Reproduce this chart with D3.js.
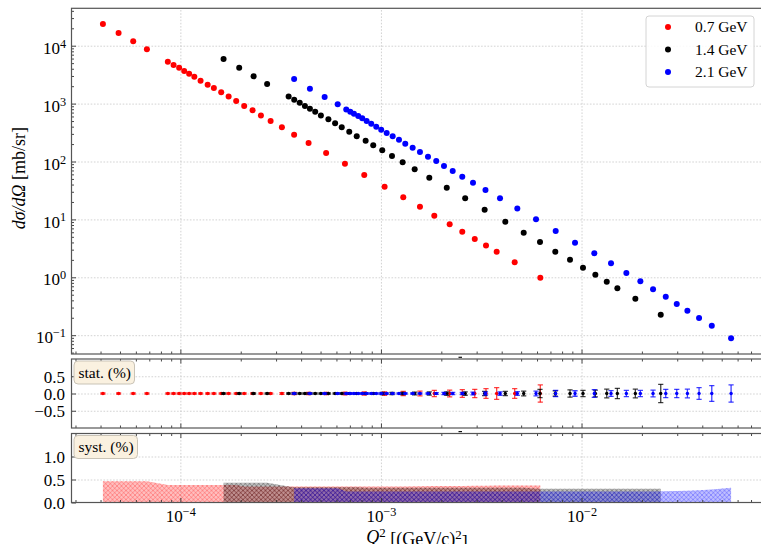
<!DOCTYPE html>
<html>
<head>
<meta charset="utf-8">
<script src="https://cdn.jsdelivr.net/npm/d3@7"></script>
<style>
  body { margin: 0; background: #fff; }
  svg { display: block; }
  text { font-family: "Liberation Serif", "Times New Roman", serif; fill: #000; }
</style>
</head>
<body>
<svg id="chart" width="761" height="544"></svg>
<script>
// ---- data -------------------------------------------------------------
const seriesNames  = ["0.7 GeV", "1.4 GeV", "2.1 GeV"];
const seriesColors = ["#ff0000", "#000000", "#0000ff"];

// Q^2 in (GeV/c)^2
const q2_07 = [4.11e-5, 4.92e-5, 5.82e-5, 6.81e-5, 8.66e-5, 9.25e-5, 9.86e-5, 1.045e-4, 1.106e-4, 1.174e-4,
  1.261e-4, 1.368e-4, 1.469e-4, 1.598e-4, 1.740e-4, 1.898e-4, 2.081e-4, 2.291e-4, 2.521e-4, 2.818e-4,
  3.208e-4, 3.691e-4, 4.358e-4, 5.330e-4, 6.614e-4, 8.256e-4, 1.043e-3, 1.292e-3, 1.565e-3, 1.845e-3,
  2.201e-3, 2.544e-3, 2.936e-3, 3.340e-3, 3.776e-3, 4.643e-3, 6.230e-3];
const q2_14 = [1.642e-4, 1.965e-4, 2.318e-4, 2.707e-4, 3.465e-4, 3.695e-4, 3.936e-4, 4.178e-4, 4.425e-4, 4.702e-4,
  5.019e-4, 5.471e-4, 5.908e-4, 6.375e-4, 6.95e-4, 7.573e-4, 8.389e-4, 9.153e-4, 1.015e-3, 1.135e-3,
  1.283e-3, 1.473e-3, 1.742e-3, 2.129e-3, 2.630e-3, 3.289e-3, 4.169e-3, 5.149e-3, 6.209e-3, 7.40e-3,
  8.762e-3, 1.017e-2, 1.172e-2, 1.336e-2, 1.509e-2, 1.855e-2, 2.483e-2];
const q2_21 = [3.691e-4, 4.425e-4, 5.24e-4, 6.088e-4, 6.714e-4, 7.031e-4, 7.336e-4, 7.705e-4, 8.067e-4, 8.485e-4,
  8.946e-4, 9.475e-4, 1.003e-3, 1.068e-3, 1.144e-3, 1.23e-3, 1.322e-3, 1.439e-3, 1.565e-3, 1.716e-3,
  1.887e-3, 2.062e-3, 2.279e-3, 2.544e-3, 2.877e-3, 3.32e-3, 3.923e-3, 4.785e-3, 5.932e-3, 7.434e-3,
  9.281e-3, 1.158e-2, 1.403e-2, 1.673e-2, 1.965e-2, 2.273e-2, 2.630e-2, 2.984e-2, 3.372e-2, 3.855e-2,
  4.461e-2, 5.568e-2];

// dσ/dΩ in mb/sr
const xs_07 = [23700, 16570, 11910, 8666, 5292, 4642, 4169, 3656, 3284, 2915,
  2486, 2120, 1859, 1568, 1327, 1109, 909, 766, 623, 500.6,
  389.7, 290.4, 208.7, 140.2, 91.6, 58.5, 36.7, 24.1, 16.57, 11.58,
  8.23, 6.13, 4.59, 3.54, 2.76, 1.816, 0.984];
const xs_14 = [5892, 4169, 2961, 2180, 1327, 1163, 1036, 909, 813, 724.6,
  623, 535.6, 458.6, 389.7, 325.8, 272.4, 228.7, 190.4, 156.1, 124.5,
  96.9, 73.3, 52.5, 35.3, 23.1, 14.7, 9.13, 5.89, 4.07, 2.77,
  2.01, 1.465, 1.109, 0.839, 0.6457, 0.427, 0.226];
const xs_21 = [2660, 1808, 1300, 972, 791, 721.8, 669, 610.6, 557, 500.6,
  449.6, 399, 354.2, 310.6, 272.4, 238, 203, 173, 145.9, 121,
  102, 83.6, 68.5, 54.6, 42.9, 32.2, 23.1, 15.4, 10.04, 6.31,
  3.96, 2.60, 1.745, 1.187, 0.853, 0.620, 0.462, 0.346, 0.265, 0.198,
  0.146, 0.0884];

// statistical uncertainty (%)
const stat_07 = [0.02, 0.02, 0.02, 0.02, 0.02, 0.02, 0.02, 0.02, 0.02, 0.02,
  0.02, 0.02, 0.02, 0.02, 0.02, 0.02, 0.02, 0.02, 0.02, 0.02,
  0.025, 0.03, 0.03, 0.035, 0.04, 0.045, 0.05, 0.06, 0.07, 0.09,
  0.10, 0.11, 0.12, 0.14, 0.17, 0.14, 0.25];
const stat_14 = [0.02, 0.02, 0.02, 0.02, 0.02, 0.02, 0.02, 0.02, 0.02, 0.02,
  0.02, 0.02, 0.02, 0.02, 0.02, 0.02, 0.02, 0.025, 0.03, 0.03,
  0.035, 0.04, 0.045, 0.05, 0.05, 0.06, 0.06, 0.07, 0.12, 0.08,
  0.107, 0.09, 0.10, 0.125, 0.15, 0.125, 0.265];
const stat_21 = [0.02, 0.02, 0.02, 0.02, 0.02, 0.02, 0.02, 0.02, 0.02, 0.02,
  0.02, 0.02, 0.02, 0.02, 0.02, 0.02, 0.02, 0.02, 0.02, 0.02,
  0.025, 0.03, 0.03, 0.035, 0.04, 0.045, 0.05, 0.055, 0.07, 0.09,
  0.08, 0.11, 0.085, 0.09, 0.09, 0.095, 0.12, 0.12, 0.125, 0.17,
  0.23, 0.25];

// systematic uncertainty (%)
const syst_07 = [0.46, 0.46, 0.46, 0.46, 0.38, 0.38, 0.38, 0.38, 0.38, 0.38,
  0.38, 0.38, 0.38, 0.38, 0.38, 0.38, 0.35, 0.35, 0.35, 0.35,
  0.35, 0.35, 0.35, 0.35, 0.35, 0.35, 0.35, 0.35, 0.355, 0.36,
  0.36, 0.36, 0.365, 0.365, 0.37, 0.37, 0.37];
const syst_14 = [0.43, 0.43, 0.43, 0.43, 0.35, 0.33, 0.33, 0.33, 0.33, 0.33,
  0.33, 0.33, 0.33, 0.33, 0.33, 0.33, 0.32, 0.32, 0.32, 0.32,
  0.32, 0.32, 0.32, 0.32, 0.32, 0.32, 0.32, 0.32, 0.30, 0.30,
  0.30, 0.30, 0.30, 0.30, 0.30, 0.30, 0.30];
const syst_21 = [0.31, 0.31, 0.31, 0.31, 0.24, 0.24, 0.24, 0.24, 0.24, 0.24,
  0.24, 0.24, 0.24, 0.24, 0.24, 0.24, 0.24, 0.24, 0.24, 0.24,
  0.24, 0.24, 0.24, 0.24, 0.24, 0.24, 0.24, 0.24, 0.24, 0.24,
  0.24, 0.24, 0.24, 0.24, 0.24, 0.24, 0.245, 0.25, 0.255, 0.265,
  0.285, 0.32];

const xMajorTicks = [1e-4, 1e-3, 1e-2];
const yMainTicks  = [1e-1, 1, 1e1, 1e2, 1e3, 1e4];
const yStatTicks  = [-0.5, 0, 0.5];
const ySystTicks  = [0, 0.5, 1.0];

// ---- assemble series --------------------------------------------------
const series = [
  {q: q2_07, v: xs_07, st: stat_07, sy: syst_07},
  {q: q2_14, v: xs_14, st: stat_14, sy: syst_14},
  {q: q2_21, v: xs_21, st: stat_21, sy: syst_21}
].map((s, i) => ({
  name: seriesNames[i], color: seriesColors[i],
  pts: s.q.map((q, j) => ({q, v: s.v[j], st: s.st[j], sy: s.sy[j]}))
}));

// ---- layout & scales --------------------------------------------------
const svg = d3.select("#chart");
svg.append("rect").attr("width", 761).attr("height", 544).attr("fill", "#fff");

const L = 71.5, R = 762.5;
const P = {
  main: {top: 8.3, bottom: 354},
  stat: {top: 359, bottom: 428},
  syst: {top: 433.5, bottom: 502.5}
};

// log axis limits padded by 5% of the decade span, like the usual auto-margins
function logPad(vals) {
  const lo = Math.log10(d3.min(vals)), hi = Math.log10(d3.max(vals)), p = 0.05 * (hi - lo);
  return [Math.pow(10, lo - p), Math.pow(10, hi + p)];
}
const x = d3.scaleLog().domain(logPad([...q2_07, ...q2_14, ...q2_21])).range([L, R]);
const yMain = d3.scaleLog().domain(logPad([...xs_07, ...xs_14, ...xs_21])).range([P.main.bottom, P.main.top]);
const yStat = d3.scaleLinear().domain([-1, 1]).range([P.stat.bottom, P.stat.top]);
const ySyst = d3.scaleLinear().domain([0, 1.5]).range([P.syst.bottom, P.syst.top]);

const xMinor = x.ticks().filter(t => !xMajorTicks.some(m => Math.abs(t / m - 1) < 1e-6));
const yMainMinor = yMain.ticks().filter(t => !yMainTicks.some(m => Math.abs(t / m - 1) < 1e-6));

const defs = svg.append("defs");
Object.entries(P).forEach(([k, p]) => {
  defs.append("clipPath").attr("id", "clip-" + k)
    .append("rect").attr("x", L).attr("y", p.top).attr("width", R - L).attr("height", p.bottom - p.top);
});

// cross-hatch patterns for the systematic bands
series.forEach((s, i) => {
  const pat = defs.append("pattern").attr("id", "hatch" + i)
    .attr("patternUnits", "userSpaceOnUse").attr("width", 4.5).attr("height", 4.5);
  pat.append("path").attr("d", "M0,0L4.5,4.5M0,4.5L4.5,0M-1,1L1,-1M3.5,5.5L5.5,3.5")
    .attr("stroke", s.color).attr("stroke-width", 0.7).attr("stroke-opacity", 0.4).attr("fill", "none");
});

// ---- grid -------------------------------------------------------------
function styleGrid(g) {
  g.select(".domain").remove();
  g.selectAll(".tick text").remove();
  g.selectAll(".tick line").attr("stroke", "#c8c8c8").attr("stroke-width", 0.8).attr("stroke-dasharray", "1.6,1.6");
}
Object.entries(P).forEach(([k, p]) => {
  svg.append("g").attr("transform", `translate(0,${p.bottom})`)
    .call(d3.axisBottom(x).tickValues(xMajorTicks).tickSize(-(p.bottom - p.top)).tickFormat(""))
    .call(styleGrid);
});
svg.append("g").attr("transform", `translate(${L},0)`)
  .call(d3.axisLeft(yMain).tickValues(yMainTicks).tickSize(-(R - L)).tickFormat("")).call(styleGrid);
svg.append("g").attr("transform", `translate(${L},0)`)
  .call(d3.axisLeft(yStat).tickValues(yStatTicks).tickSize(-(R - L)).tickFormat("")).call(styleGrid);
svg.append("g").attr("transform", `translate(${L},0)`)
  .call(d3.axisLeft(ySyst).tickValues([0.5, 1.0]).tickSize(-(R - L)).tickFormat("")).call(styleGrid);

// ---- main panel: cross sections --------------------------------------
const gMain = svg.append("g").attr("clip-path", "url(#clip-main)");
series.forEach(s => {
  gMain.append("g").selectAll("circle").data(s.pts).join("circle")
    .attr("cx", d => x(d.q)).attr("cy", d => yMain(d.v)).attr("r", 3)
    .attr("fill", s.color);
});

// ---- stat panel: error bars ------------------------------------------
const gStat = svg.append("g").attr("clip-path", "url(#clip-stat)");
series.forEach(s => {
  const g = gStat.append("g");
  const bars = g.selectAll("g").data(s.pts).join("g");
  bars.append("line")
    .attr("x1", d => x(d.q)).attr("x2", d => x(d.q))
    .attr("y1", d => yStat(-d.st)).attr("y2", d => yStat(d.st))
    .attr("stroke", s.color).attr("stroke-opacity", 0.75).attr("stroke-width", 1.3);
  [-1, 1].forEach(sg => {
    bars.append("line")
      .attr("x1", d => x(d.q) - 2.6).attr("x2", d => x(d.q) + 2.6)
      .attr("y1", d => yStat(sg * d.st)).attr("y2", d => yStat(sg * d.st))
      .attr("stroke", s.color).attr("stroke-opacity", 0.75).attr("stroke-width", 1.3);
  });
  bars.append("circle").attr("cx", d => x(d.q)).attr("cy", yStat(0)).attr("r", 1.7).attr("fill", s.color);
});

// ---- syst panel: hatched bands ---------------------------------------
const gSyst = svg.append("g").attr("clip-path", "url(#clip-syst)");
const band = d3.area().x(d => x(d.q)).y0(ySyst(0)).y1(d => ySyst(d.sy));
series.forEach((s, i) => {
  gSyst.append("path").datum(s.pts).attr("d", band)
    .attr("fill", s.color).attr("fill-opacity", 0.25);
  gSyst.append("path").datum(s.pts).attr("d", band)
    .attr("fill", `url(#hatch${i})`);
});

// ---- axes (ticks pointing inward) ------------------------------------
function tickStyle(g, keepText) {
  g.select(".domain").remove();
  g.attr("font-family", null).attr("font-size", null);
  g.selectAll(".tick line").attr("stroke", "#333").attr("stroke-width", 0.9);
  if (!keepText) g.selectAll(".tick text").remove();
}
Object.entries(P).forEach(([k, p]) => {
  svg.append("g").attr("transform", `translate(0,${p.bottom})`)
    .call(d3.axisBottom(x).tickValues(xMajorTicks).tickSizeInner(-4.5).tickSizeOuter(0).tickFormat(""))
    .call(g => tickStyle(g, false));
  svg.append("g").attr("transform", `translate(0,${p.bottom})`)
    .call(d3.axisBottom(x).tickValues(xMinor).tickSizeInner(-2.5).tickSizeOuter(0).tickFormat(""))
    .call(g => tickStyle(g, false));
  if (k !== "main") {
    svg.append("g").attr("transform", `translate(0,${p.top})`)
      .call(d3.axisTop(x).tickValues(xMajorTicks).tickSizeInner(-4.5).tickSizeOuter(0).tickFormat(""))
      .call(g => tickStyle(g, false));
    svg.append("g").attr("transform", `translate(0,${p.top})`)
      .call(d3.axisTop(x).tickValues(xMinor).tickSizeInner(-2.5).tickSizeOuter(0).tickFormat(""))
      .call(g => tickStyle(g, false));
  }
});

function powerLabel(sel) {
  sel.each(function (d) {
    const t = d3.select(this), e = Math.round(Math.log10(d));
    t.text(null);
    t.append("tspan").text("10");
    t.append("tspan").attr("dy", "-0.5em").attr("font-size", "0.72em").text(e < 0 ? "\u2212" + (-e) : String(e));
  });
}

// x tick labels under the bottom panel
svg.append("g").attr("transform", `translate(0,${P.syst.bottom})`)
  .call(d3.axisBottom(x).tickValues(xMajorTicks).tickSizeInner(0).tickSizeOuter(0))
  .call(g => {
    tickStyle(g, true);
    g.selectAll(".tick line").remove();
    g.selectAll(".tick text").attr("y", 19.5).attr("dy", null).attr("font-size", 17).call(powerLabel);
  });

// main y axis
svg.append("g").attr("transform", `translate(${L},0)`)
  .call(d3.axisRight(yMain).tickValues(yMainMinor).tickSizeInner(2.5).tickSizeOuter(0).tickFormat(""))
  .call(g => tickStyle(g, false));
svg.append("g").attr("transform", `translate(${L},0)`)
  .call(d3.axisRight(yMain).tickValues(yMainTicks).tickSizeInner(4.5).tickSizeOuter(0).tickFormat(""))
  .call(g => tickStyle(g, false));
svg.append("g").attr("transform", `translate(${L},0)`)
  .call(d3.axisLeft(yMain).tickValues(yMainTicks).tickSizeInner(0).tickSizeOuter(0).tickPadding(5.5))
  .call(g => {
    tickStyle(g, true);
    g.selectAll(".tick line").remove();
    g.selectAll(".tick text").attr("dy", "0.45em").attr("font-size", 17).call(powerLabel);
  });

// stat & syst y axes
[[yStat, yStatTicks], [ySyst, ySystTicks]].forEach(([sc, tv]) => {
  svg.append("g").attr("transform", `translate(${L},0)`)
    .call(d3.axisRight(sc).tickValues(tv).tickSizeInner(4.5).tickSizeOuter(0).tickFormat(""))
    .call(g => tickStyle(g, false));
  svg.append("g").attr("transform", `translate(${L},0)`)
    .call(d3.axisLeft(sc).tickValues(tv).tickSizeInner(0).tickSizeOuter(0).tickPadding(6.5).tickFormat(d3.format(".1f")))
    .call(g => {
      tickStyle(g, true);
      g.selectAll(".tick line").remove();
      g.selectAll(".tick text").attr("dy", "0.34em").attr("font-size", 17);
    });
});

// ---- spines -----------------------------------------------------------
Object.values(P).forEach(p => {
  svg.append("rect").attr("x", L).attr("y", p.top).attr("width", R - L).attr("height", p.bottom - p.top)
    .attr("fill", "none").attr("stroke", "#555").attr("stroke-width", 1.2);
});
// small offset marks below the upper two panels
[P.main.bottom + 3.3, P.stat.bottom + 3.6].forEach(yy => {
  svg.append("line").attr("x1", 458.5).attr("x2", 462).attr("y1", yy).attr("y2", yy)
    .attr("stroke", "#111").attr("stroke-width", 1.2);
});

// ---- panel tags -------------------------------------------------------
function tag(xp, yp, w, h, label) {
  svg.append("rect").attr("x", xp).attr("y", yp).attr("width", w).attr("height", h).attr("rx", 4)
    .attr("fill", "#faf1e0").attr("stroke", "#c9c3b6").attr("stroke-width", 1);
  svg.append("text").attr("x", xp + 4.5).attr("y", yp + h / 2).attr("dy", "0.33em")
    .attr("font-size", 15.5).text(label);
}
tag(74, 361, 60.5, 23, "stat. (%)");
tag(74, 435.5, 63.5, 23, "syst. (%)");

// ---- legend -----------------------------------------------------------
const leg = svg.append("g");
leg.append("rect").attr("x", 646).attr("y", 16).attr("width", 108).attr("height", 71).attr("rx", 3)
  .attr("fill", "#fff").attr("fill-opacity", 0.85).attr("stroke", "#d4d4d4");
series.forEach((s, i) => {
  const yy = 27 + i * 22.5;
  leg.append("circle").attr("cx", 668).attr("cy", yy).attr("r", 3).attr("fill", s.color);
  leg.append("text").attr("x", 695).attr("y", yy).attr("dy", "0.35em").attr("font-size", 15.5).text(s.name);
});

// ---- axis titles ------------------------------------------------------
const yt = svg.append("text").attr("transform", `translate(24.5,${(P.main.top + P.main.bottom) / 2 - 3}) rotate(-90)`)
  .attr("text-anchor", "middle").attr("font-size", 18);
yt.append("tspan").attr("font-style", "italic").text("d\u03c3/d\u03a9");
yt.append("tspan").text(" [mb/sr]");

const xt = svg.append("text").attr("x", (L + R) / 2).attr("y", 543).attr("text-anchor", "middle").attr("font-size", 18);
xt.append("tspan").attr("font-style", "italic").text("Q");
xt.append("tspan").attr("dy", "-0.45em").attr("font-size", "0.72em").text("2");
xt.append("tspan").attr("dy", "0.45em").text(" [(GeV/c)");
xt.append("tspan").attr("dy", "-0.45em").attr("font-size", "0.72em").text("2");
xt.append("tspan").attr("dy", "0.45em").text("]");
</script>
</body>
</html>
